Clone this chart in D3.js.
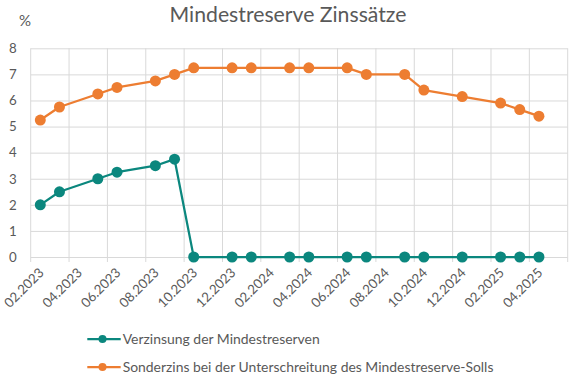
<!DOCTYPE html>
<html>
<head>
<meta charset="utf-8">
<script src="https://cdn.jsdelivr.net/npm/d3@7"></script>
<style>
  body { margin: 0; background: #fff; }
  text { font-family: Lato, "Open Sans", sans-serif; fill: #595959; }
</style>
</head>
<body>
<div id="chart"></div>
<script>
// chart data (month of each rate change, values in %)
const dates = ["02.2023", "03.2023", "05.2023", "06.2023", "08.2023", "09.2023", "10.2023",
    "12.2023", "01.2024", "03.2024", "04.2024", "06.2024", "07.2024", "09.2024", "10.2024",
    "12.2024", "02.2025", "03.2025", "04.2025"];
const verzinsung = [2, 2.5, 3, 3.25, 3.5, 3.75, 0, 0, 0, 0, 0, 0, 0, 0, 0, 0, 0, 0, 0];
const sonderzins = [5.25, 5.75, 6.25, 6.5, 6.75, 7.0, 7.25, 7.25, 7.25, 7.25, 7.25, 7.25,
    7.0, 7.0, 6.4, 6.15, 5.9, 5.65, 5.4];
const xTickLabels = ["02.2023", "04.2023", "06.2023", "08.2023", "10.2023", "12.2023",
    "02.2024", "04.2024", "06.2024", "08.2024", "10.2024", "12.2024", "02.2025", "04.2025"];
const yTicks = [0, 1, 2, 3, 4, 5, 6, 7, 8];
const seriesNames = ["Verzinsung der Mindestreserven",
    "Sonderzins bei der Unterschreitung des Mindestreserve-Solls"];

const width = 576, height = 376;
const plot = { left: 30.7, right: 567.7, top: 48.3, bottom: 257 };
const colors = ["#0B877E", "#ED7D31"];
const months = 28; // 02.2023 .. 05.2025, one slot per month

// "MM.YYYY" -> month slot index from 02.2023
const monthIndex = s => {
    const [m, y] = s.split(".").map(Number);
    return (y - 2023) * 12 + m - 2;
};

const svg = d3.select("#chart").append("svg")
    .attr("width", width)
    .attr("height", height);

const x = d3.scaleLinear().domain([0, months]).range([plot.left, plot.right]);
const y = d3.scaleLinear().domain([0, 8]).range([plot.bottom, plot.top]);

// fit a text to a measured width from the reference
function fit(sel, targetWidth) {
    const size = +sel.attr("font-size");
    const w = sel.node().getComputedTextLength();
    sel.attr("font-size", size * targetWidth / w);
}

// horizontal gridlines + y labels
const yAxis = svg.append("g")
    .attr("transform", `translate(${plot.left},0)`)
    .call(d3.axisLeft(y).tickValues(yTicks).tickSize(-(plot.right - plot.left)).tickPadding(10));
yAxis.select(".domain").remove();
yAxis.selectAll(".tick line").attr("stroke", "#D9D9D9").attr("stroke-width", 1);
yAxis.selectAll(".tick text")
    .attr("font-size", 13.3)
    .attr("font-family", "Lato")
    .attr("fill", "#595959")
    .attr("x", -14);

// vertical gridlines every two months (+ right edge)
const gridVals = d3.range(0, months + 1, 2);
svg.append("g")
    .selectAll("line")
    .data(gridVals)
    .join("line")
    .attr("x1", d => x(d)).attr("x2", d => x(d))
    .attr("y1", plot.top).attr("y2", plot.bottom + 5)
    .attr("stroke", "#D9D9D9")
    .attr("stroke-width", 1);

// x labels, rotated
const xAxis = svg.append("g")
    .attr("transform", `translate(0,${plot.bottom})`)
    .call(d3.axisBottom(x)
        .tickValues(xTickLabels.map(monthIndex))
        .tickSize(0)
        .tickFormat((d, i) => xTickLabels[i]));
xAxis.select(".domain").remove();
xAxis.selectAll(".tick text")
    .attr("font-size", 13.3)
    .attr("font-family", "Lato")
    .attr("fill", "#595959")
    .attr("text-anchor", "end")
    .attr("dy", 0)
    .attr("y", 0)
    .attr("transform", "translate(13.5,16.5) rotate(-45)");

// series
const series = [verzinsung, sonderzins];
const line = d3.line()
    .x((d, i) => x(monthIndex(dates[i]) + 0.5))
    .y(d => y(d));

series.forEach((vals, k) => {
    const g = svg.append("g");
    g.append("path")
        .datum(vals)
        .attr("fill", "none")
        .attr("stroke", colors[k])
        .attr("stroke-width", 2.25)
        .attr("stroke-linejoin", "round")
        .attr("d", line);
    g.selectAll("circle")
        .data(vals)
        .join("circle")
        .attr("cx", (d, i) => x(monthIndex(dates[i]) + 0.5))
        .attr("cy", d => y(d))
        .attr("r", 5.5)
        .attr("fill", colors[k]);
});

// title and unit
const title = svg.append("text")
    .attr("x", width / 2)
    .attr("y", 21.5)
    .attr("text-anchor", "middle")
    .attr("font-size", 21)
    .text("Mindestreserve Zinssätze");
fit(title, 237);

svg.append("text")
    .attr("x", 19)
    .attr("y", 26)
    .attr("font-size", 15)
    .text("%");

// legend
const legendY = [339, 367];
const legendW = [197, 371];
seriesNames.forEach((name, k) => {
    const g = svg.append("g").attr("transform", `translate(0,${legendY[k]})`);
    g.append("line")
        .attr("x1", 87.3).attr("x2", 120.7)
        .attr("stroke", colors[k])
        .attr("stroke-width", 2.25);
    g.append("circle")
        .attr("cx", 102.5)
        .attr("r", 4)
        .attr("fill", colors[k]);
    const t = g.append("text")
        .attr("x", 122.7)
        .attr("dy", "0.35em")
        .attr("font-size", 14.7)
        .text(name);
    fit(t, legendW[k]);
});
</script>
</body>
</html>
